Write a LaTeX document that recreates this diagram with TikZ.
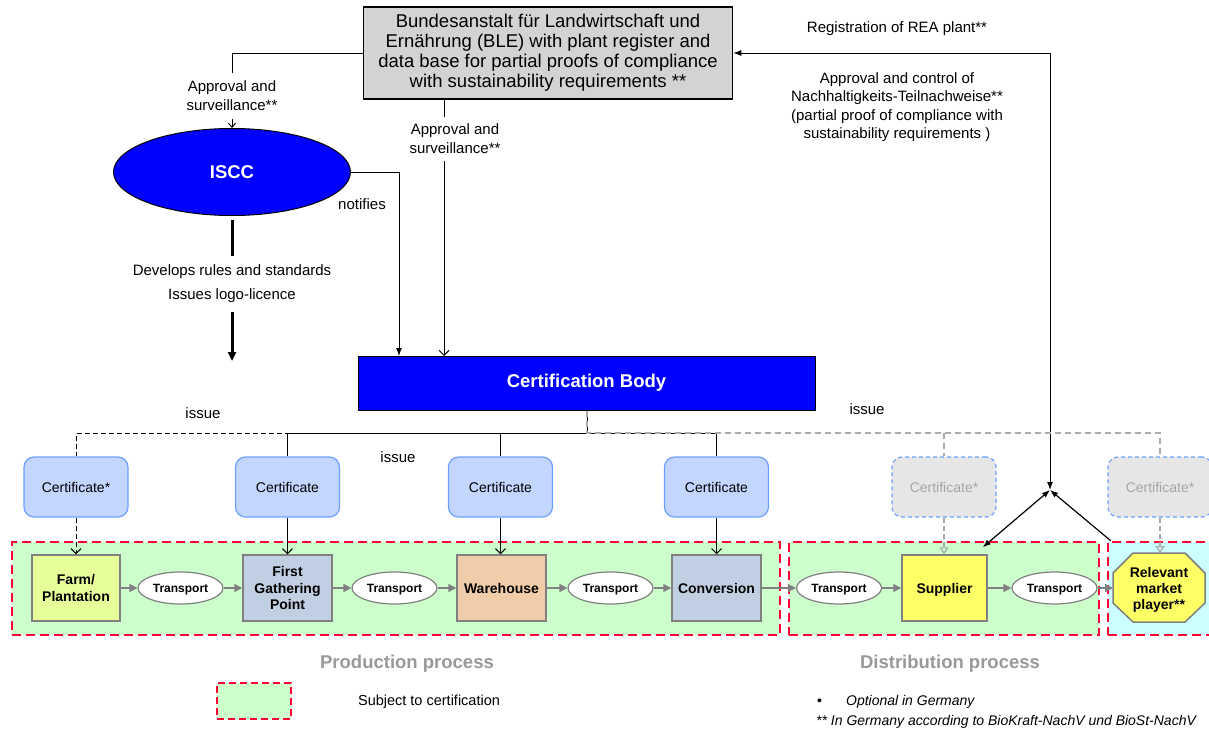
\documentclass[tikz,border=0pt]{standalone}
\usepackage{fontspec}
\setmainfont{Liberation Sans}
\usetikzlibrary{arrows.meta,shapes.geometric}
\newcommand\myfs[2]{\fontsize{#1}{#2}\selectfont}
\definecolor{blegray}{HTML}{D3D3D3}
\definecolor{iscblue}{HTML}{0000FF}
\definecolor{certfill}{HTML}{C2D6FF}
\definecolor{certedge}{HTML}{6E9EFF}
\definecolor{gcfill}{HTML}{E6E6E6}
\definecolor{gctext}{HTML}{A6A6A6}
\definecolor{regGreen}{HTML}{CCFFCC}
\definecolor{regCyan}{HTML}{CCFFFF}
\definecolor{regred}{HTML}{FF0033}
\definecolor{farmfill}{HTML}{E6FF99}
\definecolor{stfill}{HTML}{C0CFE2}
\definecolor{whfill}{HTML}{F0CCA8}
\definecolor{supfill}{HTML}{FFFF66}
\definecolor{procedge}{HTML}{808080}
\definecolor{graytxt}{HTML}{999999}
\definecolor{gdash}{HTML}{AAAAAA}
\begin{document}
\begin{tikzpicture}[x=1pt,y=-1pt,
  lbl/.style={font=\myfs{15}{19}, align=center, inner sep=0pt},
  wlbl/.style={lbl, fill=white, inner xsep=2pt, inner ysep=8pt},
  blebox/.style={draw, line width=1.5pt, fill=blegray, minimum width=369pt, minimum height=92pt, font=\myfs{18.5}{20}, align=center, inner sep=0pt},
  certbox/.style={draw=certedge, line width=1.2pt, fill=certfill, rounded corners=10pt, minimum width=104pt, minimum height=60pt, font=\myfs{14}{16}, inner sep=0pt},
  gcert/.style={certbox, dash pattern=on 4pt off 3pt, fill=gcfill, text=gctext},
  proc/.style={draw=procedge, line width=1.5pt, minimum width=89pt, minimum height=66pt, font=\bfseries\myfs{14}{16.5}, align=center, inner sep=0pt},
  oneline/.style={text height=10pt, text depth=0pt},
  trans/.style={ellipse, draw=procedge, line width=1.2pt, fill=white, minimum width=85pt, minimum height=32pt, font=\bfseries\myfs{12}{14}, inner sep=0pt, text height=8.6pt, text depth=0pt},
  region/.style={draw=regred, line width=2.5pt, dash pattern=on 9pt off 5pt, inner sep=0pt},
  parr/.style={draw=procedge, line width=1.5pt, -{Triangle[length=8pt,width=8pt]}},
  barb/.style={line width=1pt, -{Straight Barb[length=5pt,width=10pt]}},
  garr/.style={draw=gdash, line width=1.2pt, dash pattern=on 5pt off 3pt, -{Triangle[open,length=7pt,width=9pt]}},
  farr/.style={line width=1pt, -{Latex[length=8pt,width=6pt]}}
]
\useasboundingbox (0,0) rectangle (1209,728);

% regions
\node[region, fill=regGreen, minimum width=768pt, minimum height=93pt] (prod) at (396,588.5) {};
\node[region, fill=regGreen, minimum width=310pt, minimum height=93pt] (dist) at (944,588.5) {};
\node[region, fill=regCyan, minimum width=107pt, minimum height=93pt] (rel) at (1161.5,588.5) {};

% top
\node[blebox] (ble) at (548,53) {Bundesanstalt für Landwirtschaft und\\Ernährung (BLE) with plant register and\\data base for partial proofs of compliance\\with sustainability requirements **};
\node[ellipse, draw, line width=1pt, fill=iscblue, text=white, font=\bfseries\myfs{18.5}{20}, minimum width=237pt, minimum height=87pt, inner sep=0pt] (iscc) at (232,172) {ISCC};
\node[draw, line width=1pt, fill=iscblue, text=white, font=\bfseries\myfs{18.5}{20}, minimum width=457pt, minimum height=54pt, inner sep=0pt] (cb) at (586.5,383) {Certification Body};

\coordinate (cbA) at (399,356);
\coordinate (cbB) at (444,356);
\coordinate (J) at (1050,490);
\coordinate (devEnd) at (232,361);

% BLE -> ISCC
\node[wlbl, inner ysep=8pt] (appL) at (232,96) {Approval and\\surveillance**};
\draw[line width=1pt] (ble.west) -| (appL.north);
\draw[line width=1pt, -{Straight Barb[length=4pt,width=7pt]}] (appL.south) -- (iscc.north);

% BLE -> CB
\draw[barb] (ble.south -| cbB) -- (cbB);
\node[wlbl, inner ysep=7pt] (appM) at (455,139) {Approval and\\surveillance**};

% ISCC -> CB
\draw[farr] (iscc.east) -| (cbA);
\node[lbl] (notif) at (362,204) {notifies};

% ISCC develops
\node[wlbl, font=\myfs{15}{24}, inner ysep=9pt] (dev) at (232,284) {Develops rules and standards\\Issues logo-licence};
\draw[line width=3pt] ([yshift=-4pt]iscc.south) -- (dev.north);
\draw[line width=3pt, -{Triangle[length=9pt,width=8pt]}] (dev.south) -- (devEnd);

% BLE <-> J
\draw[line width=1pt, {Latex[length=8pt,width=6pt]}-{Latex[length=8pt,width=6pt]}] (ble.east) -| (J);
\node[lbl] (reg) at (897,29) {Registration of REA plant**};
\node[lbl, font=\myfs{15}{18.5}] (appC) at (897,107) {Approval and control of\\Nachhaltigkeits-Teilnachweise**\\(partial proof of compliance with\\sustainability requirements )};

% certificates
\node[certbox] (c1) at (76,487) {Certificate*};
\node[certbox] (c2) at (287.5,487) {Certificate};
\node[certbox] (c3) at (500.5,487) {Certificate};
\node[certbox] (c4) at (716.5,487) {Certificate};
\node[gcert] (c5) at (944,487) {Certificate*};
\node[gcert] (c6) at (1160,487) {Certificate*};

\coordinate (bus) at (587,433);
% solid bus
\draw[line width=1pt] (cb.south -| bus) -- (bus);
\draw[line width=1pt] (c2.north) -- (c2.north |- bus) -- (c4.north |- bus) -- (c4.north);
\draw[line width=1pt] (c3.north |- bus) -- (c3.north);
% black dashed
\draw[line width=1pt, dash pattern=on 5pt off 3pt] (cb.south -| bus) -- (bus) -- (bus -| c1.north) -- (c1.north);
% gray dashed
\draw[draw=gdash, line width=1.2pt, dash pattern=on 6pt off 4pt] (cb.south -| bus) -- (bus) -- (bus -| c6.north) -- (c6.north);
\draw[draw=gdash, line width=1.2pt, dash pattern=on 6pt off 4pt] (c5.north |- bus) -- (c5.north);

\node[lbl] (iss1) at (203,413) {issue};
\node[lbl] (iss2) at (398,457) {issue};
\node[lbl] (iss3) at (867,409) {issue};

% process
\node[proc, fill=farmfill, minimum width=88pt] (farm) at (76,588) {Farm/\\Plantation};
\node[trans] (t1) at (180.5,588) {Transport};
\node[proc, fill=stfill] (fgp) at (287.5,588) {First\\Gathering\\Point};
\node[trans] (t2) at (394.5,588) {Transport};
\node[proc, oneline, fill=whfill] (wh) at (501.5,588) {Warehouse};
\node[trans] (t3) at (610.5,588) {Transport};
\node[proc, oneline, fill=stfill] (conv) at (716.5,588) {Conversion};
\node[trans] (t4) at (839,588) {Transport};
\node[proc, oneline, fill=supfill, minimum width=85pt] (sup) at (944.5,588) {Supplier};
\node[trans] (t5) at (1054.5,588) {Transport};
\draw[draw=procedge, line width=1.5pt, fill=supfill] (1133,553) -- (1185,553) -- (1205,573) -- (1205,603) -- (1185,622) -- (1133,622) -- (1113,603) -- (1113,573) -- cycle;
\node[font=\bfseries\myfs{14}{16}, align=center, inner sep=0pt] (rmp) at (1159,589.5) {Relevant\\market\\player**};
\coordinate (rmpW) at (1113,588);

\draw[parr] (farm) -- (t1);
\draw[parr] (t1) -- (fgp);
\draw[parr] (fgp) -- (t2);
\draw[parr] (t2) -- (wh);
\draw[parr] (wh) -- (t3);
\draw[parr] (t3) -- (conv);
\draw[parr] (conv) -- (t4);
\draw[parr] (t4) -- (sup);
\draw[parr] (sup) -- (t5);
\draw[parr] (t5) -- (rmpW);

% certificate arrows
\draw[barb, dash pattern=on 5pt off 3pt] (c1.south) -- (c1.south |- farm.north);
\draw[barb] (c2.south) -- (c2.south |- fgp.north);
\draw[barb] (c3.south) -- (c3.south |- wh.north);
\draw[barb] (c4.south) -- (c4.south |- conv.north);
\draw[garr] (c5.south) -- (c5.south |- sup.north);
\draw[garr] (c6.south) -- (c6.south |- 0,553);

% junction arrows
\draw[line width=1.2pt, {Latex[length=8pt,width=6pt]}-{Latex[length=8pt,width=6pt]}] ([shift={(-5,-7)}]sup.north east) -- (J);
\draw[line width=1.2pt, -{Latex[length=8pt,width=6pt]}] ([xshift=4pt]rel.north west) -- (J);

% bottom labels
\node[font=\bfseries\myfs{18.5}{20}, text=graytxt, inner sep=0pt] (pp) at (407,664) {Production process};
\node[font=\bfseries\myfs{18.5}{20}, text=graytxt, inner sep=0pt] (dp) at (950,664) {Distribution process};
\node[region, fill=regGreen, minimum width=74pt, minimum height=36pt, dash pattern=on 7pt off 4pt] (leg) at (254,701) {};
\node[lbl, font=\myfs{14.5}{17}] (legt) at (429,702) {Subject to certification};
\node[anchor=west, font=\itshape\myfs{14}{16}, inner sep=0pt] (fn1) at (817,702) {\upshape•\hspace{24pt}\itshape Optional in Germany};
\node[anchor=west, font=\itshape\myfs{14}{16}, inner sep=0pt] (fn2) at (816,722) {** In Germany according to BioKraft-NachV und BioSt-NachV};
\end{tikzpicture}
\end{document}
